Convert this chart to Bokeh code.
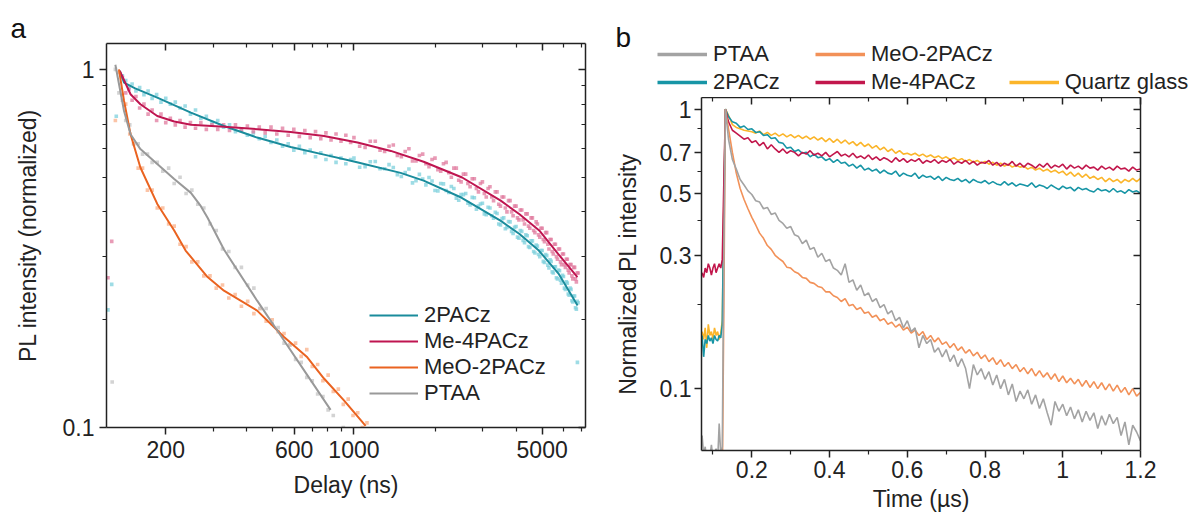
from bokeh.plotting import figure
from bokeh.models import Range1d, FixedTicker, LogAxis, LinearAxis, Legend, LegendItem, Title, Label
from bokeh.layouts import row, column
from bokeh.embed import file_html
from bokeh.resources import INLINE

# ================= Panel a data (delay in ns, normalized PL) =================
a_series = ["2PACz", "Me-4PACz", "MeO-2PACz", "PTAA"]

teal_fit_x = [135, 140, 154, 186, 248, 329, 437, 582, 774, 1000, 1490, 1815, 2513, 3500, 4120, 4860, 5750, 6770]
teal_fit_y = [0.99, 0.918, 0.885, 0.834, 0.757, 0.695, 0.645, 0.607, 0.578, 0.553, 0.514, 0.489, 0.438, 0.378, 0.347, 0.312, 0.269, 0.219]

crim_fit_x = [135, 148, 161, 186, 215, 248, 329, 437, 582, 774, 1031, 1371, 1815, 2523, 3508, 4120, 4877, 5740, 6760]
crim_fit_y = [0.99, 0.852, 0.799, 0.741, 0.715, 0.700, 0.691, 0.681, 0.669, 0.652, 0.625, 0.592, 0.552, 0.499, 0.430, 0.394, 0.355, 0.305, 0.263]

orng_fit_x = [134, 140, 148, 161, 186, 215, 237, 286, 329, 437, 550, 671, 774, 918, 1105]
orng_fit_y = [1.0, 0.816, 0.659, 0.532, 0.421, 0.355, 0.312, 0.263, 0.241, 0.212, 0.179, 0.157, 0.137, 0.119, 0.101]

gray_fit_x = [130, 140, 148, 161, 186, 215, 248, 270, 286, 329, 437, 550, 671, 819]
gray_fit_y = [1.03, 0.765, 0.659, 0.599, 0.544, 0.494, 0.452, 0.415, 0.385, 0.314, 0.226, 0.175, 0.140, 0.112]

# measured points (2PACz and Me-4PACz share delays)
tc_scatter_x = [138, 142, 146, 150, 155, 160, 166, 172, 178, 185,
                192, 200, 208, 217, 226, 236, 247, 258, 270, 283,
                297, 312, 328, 345, 363, 382, 402, 423, 445, 468,
                492, 517, 543, 570, 598, 627, 657, 688, 720, 753,
                787, 822, 858, 895, 933, 972,
                1000, 1100, 1200, 1300, 1400, 1500, 1600, 1700, 1800, 1900,
                2000, 2100, 2200, 2300, 2400, 2500, 2600, 2700, 2800, 2900,
                3000, 3100, 3200, 3300, 3400, 3500, 3600, 3700, 3800, 3900,
                4000, 4100, 4200, 4300, 4400, 4500, 4600, 4700, 4800, 4900,
                5000, 5100, 5200, 5300, 5400, 5500, 5600, 5700, 5800, 5900,
                6000, 6100, 6200, 6300, 6400, 6500, 6600, 6700, 6800]
teal_scatter_y = [0.96, 0.93, 0.89, 0.91, 0.87, 0.89, 0.85, 0.87, 0.83, 0.85,
                  0.81, 0.83, 0.80, 0.81, 0.78, 0.79, 0.75, 0.77, 0.73, 0.74,
                  0.71, 0.72, 0.69, 0.70, 0.67, 0.68, 0.655, 0.665, 0.64, 0.65,
                  0.625, 0.635, 0.61, 0.62, 0.595, 0.61, 0.585, 0.595, 0.57, 0.585,
                  0.56, 0.575, 0.55, 0.565, 0.545, 0.56,
                  0.565, 0.535, 0.553, 0.528, 0.532, 0.502, 0.527, 0.489, 0.494, 0.499,
                  0.459, 0.480, 0.459, 0.471, 0.437, 0.447, 0.450, 0.418, 0.438, 0.415,
                  0.423, 0.393, 0.410, 0.384, 0.396, 0.368, 0.385, 0.362, 0.375, 0.348,
                  0.364, 0.338, 0.353, 0.328, 0.343, 0.318, 0.332, 0.307, 0.321, 0.300,
                  0.312, 0.289, 0.302, 0.279, 0.291, 0.270, 0.281, 0.260, 0.274, 0.253,
                  0.264, 0.243, 0.253, 0.234, 0.243, 0.224, 0.233, 0.214, 0.223]
crim_scatter_y = [0.95, 0.86, 0.88, 0.82, 0.84, 0.78, 0.80, 0.75, 0.77, 0.72,
                  0.75, 0.71, 0.73, 0.70, 0.72, 0.69, 0.71, 0.685, 0.71, 0.68,
                  0.70, 0.68, 0.70, 0.675, 0.70, 0.675, 0.695, 0.67, 0.69, 0.665,
                  0.69, 0.66, 0.685, 0.655, 0.68, 0.65, 0.675, 0.645, 0.67, 0.64,
                  0.665, 0.635, 0.66, 0.63, 0.655, 0.625,
                  0.645, 0.605, 0.63, 0.59, 0.615, 0.57, 0.60, 0.555, 0.58, 0.535,
                  0.565, 0.52, 0.55, 0.50, 0.53, 0.485, 0.51, 0.47, 0.495, 0.455,
                  0.485, 0.44, 0.47, 0.43, 0.455, 0.415, 0.44, 0.40, 0.43, 0.39,
                  0.415, 0.38, 0.405, 0.37, 0.395, 0.36, 0.385, 0.35, 0.37, 0.34,
                  0.36, 0.33, 0.35, 0.315, 0.335, 0.305, 0.325, 0.295, 0.315, 0.285,
                  0.305, 0.28, 0.295, 0.27, 0.285, 0.26, 0.28, 0.255, 0.27]

# further measured points in the dense tail (2PACz and Me-4PACz)
tc_tail_x = [1050, 1150, 1250, 1350, 1450, 1550, 1650, 1750, 1850, 1950,
             2050, 2150, 2250, 2350, 2450, 2550, 2650, 2750, 2850, 2950,
             3050, 3150, 3250, 3350, 3450, 3550, 3650, 3750, 3850, 3950,
             4050, 4150, 4250, 4350, 4450, 4550, 4650, 4750, 4850, 4950,
             5050, 5150, 5250, 5350, 5450, 5550, 5650, 5750, 5850, 5950,
             6050, 6150, 6250, 6350, 6450, 6550, 6650, 6750]
teal_tail_y = [0.533, 0.552, 0.528, 0.542, 0.508, 0.515, 0.482, 0.509, 0.476, 0.488,
               0.458, 0.479, 0.453, 0.465, 0.431, 0.447, 0.423, 0.439, 0.407, 0.421,
               0.395, 0.412, 0.390, 0.399, 0.370, 0.383, 0.359, 0.376, 0.353, 0.362,
               0.340, 0.355, 0.333, 0.345, 0.320, 0.332, 0.310, 0.323, 0.304, 0.312,
               0.291, 0.304, 0.284, 0.294, 0.272, 0.281, 0.262, 0.275, 0.258, 0.266,
               0.245, 0.255, 0.236, 0.245, 0.226, 0.233, 0.216, 0.225]
crim_tail_y = [0.61, 0.63, 0.595, 0.61, 0.575, 0.59, 0.555, 0.575, 0.545, 0.56,
               0.525, 0.545, 0.515, 0.53, 0.49, 0.51, 0.48, 0.495, 0.465, 0.48,
               0.45, 0.465, 0.44, 0.455, 0.42, 0.44, 0.41, 0.43, 0.40, 0.415,
               0.385, 0.405, 0.38, 0.395, 0.365, 0.385, 0.355, 0.375, 0.345, 0.36,
               0.335, 0.35, 0.325, 0.335, 0.31, 0.325, 0.30, 0.315, 0.29, 0.305,
               0.285, 0.295, 0.275, 0.285, 0.265, 0.28, 0.26, 0.27]

# measured points (MeO-2PACz and PTAA share delays)
og_scatter_x = [130, 134, 138, 142, 147, 152, 158, 164, 171, 178,
                186, 195, 205, 215, 226, 238, 250, 263, 277, 292,
                308, 325, 343, 362, 382, 403, 425, 448, 472, 497,
                523, 550, 578, 607, 637, 668, 700, 733, 767, 802,
                838, 875, 913, 952, 992, 1033, 1075, 1118]
orng_scatter_y = [0.72, 0.98, 0.85, 0.80, 0.66, 0.62, 0.53, 0.53, 0.46, 0.46,
                  0.41, 0.41, 0.37, 0.365, 0.325, 0.32, 0.29, 0.29, 0.265, 0.265,
                  0.245, 0.25, 0.23, 0.235, 0.218, 0.225, 0.208, 0.215, 0.198, 0.20,
                  0.185, 0.183, 0.17, 0.172, 0.158, 0.165, 0.148, 0.15, 0.135, 0.14,
                  0.126, 0.128, 0.116, 0.12, 0.108, 0.11, 0.10, 0.103]
gray_scatter_y = [1.0, 0.86, 0.82, 0.72, 0.70, 0.62, 0.62, 0.58, 0.58, 0.55,
                  0.55, 0.52, 0.53, 0.48, 0.50, 0.45, 0.46, 0.42, 0.41, 0.37,
                  0.355, 0.315, 0.31, 0.28, 0.28, 0.25, 0.245, 0.215, 0.215, 0.195,
                  0.19, 0.172, 0.17, 0.155, 0.152, 0.138, 0.135, 0.124, 0.122, 0.112,
                  0.108, 0.099, 0.1, 0.095, 0.097, 0.095, 0.093, 0.09]

# stray points
teal_out_x = [122, 126, 131, 6760]
teal_out_y = [0.213, 0.251, 0.74, 0.152]
crim_out_x = [122, 126]
crim_out_y = [0.262, 0.331]
gray_out_x = [126.5]
gray_out_y = [0.134]

a_xticks = [200, 600, 1000, 5000]
a_xlabels = ["200", "600", "1000", "5000"]
a_xminor = [300, 400, 500, 700, 800, 900, 2000, 3000, 4000, 6000, 7000]
a_yticks = [0.1, 1]
a_ylabels = ["0.1", "1"]
a_yminor = [0.2, 0.3, 0.4, 0.5, 0.6, 0.7, 0.8, 0.9]

# ================= Panel b data (time in us, normalized PL) =================
b_series = ["PTAA", "MeO-2PACz", "2PACz", "Me-4PACz", "Quartz glass"]

time_us = [0.072, 0.076, 0.080, 0.084, 0.088, 0.092, 0.096, 0.100, 0.104, 0.108,
           0.112, 0.116, 0.120, 0.124, 0.128, 0.132,
           0.14, 0.15, 0.16, 0.17, 0.18, 0.19, 0.20, 0.21, 0.22, 0.23,
           0.24, 0.25, 0.26, 0.27, 0.28, 0.29, 0.30, 0.31, 0.32, 0.33,
           0.34, 0.35, 0.36, 0.37, 0.38, 0.39, 0.40, 0.41, 0.42, 0.43,
           0.44, 0.45, 0.46, 0.47, 0.48, 0.49, 0.50, 0.51, 0.52, 0.53,
           0.54, 0.55, 0.56, 0.57, 0.58, 0.59, 0.60, 0.61, 0.62, 0.63,
           0.64, 0.65, 0.66, 0.67, 0.68, 0.69, 0.70, 0.71, 0.72, 0.73,
           0.74, 0.75, 0.76, 0.77, 0.78, 0.79, 0.80, 0.81, 0.82, 0.83,
           0.84, 0.85, 0.86, 0.87, 0.88, 0.89, 0.90, 0.91, 0.92, 0.93,
           0.94, 0.95, 0.96, 0.97, 0.98, 0.99, 1.00, 1.01, 1.02, 1.03,
           1.04, 1.05, 1.06, 1.07, 1.08, 1.09, 1.10, 1.11, 1.12, 1.13,
           1.14, 1.15, 1.16, 1.17, 1.18, 1.19, 1.20]

b_2pacz = [0.155, 0.13, 0.15, 0.145, 0.155, 0.148, 0.152, 0.145, 0.155, 0.15,
           0.148, 0.155, 0.152, 0.17, 0.45, 1.0,
           0.94, 0.90, 0.89, 0.86, 0.87, 0.845, 0.85, 0.825, 0.83, 0.805,
           0.81, 0.785, 0.79, 0.76, 0.755, 0.725, 0.73, 0.705, 0.715, 0.695,
           0.70, 0.675, 0.69, 0.67, 0.675, 0.655, 0.665, 0.645, 0.66, 0.64,
           0.645, 0.625, 0.635, 0.615, 0.63, 0.605, 0.615, 0.60, 0.61, 0.59,
           0.605, 0.59, 0.585, 0.60, 0.575, 0.59, 0.58, 0.575, 0.59, 0.565,
           0.58, 0.57, 0.575, 0.56, 0.575, 0.555, 0.57, 0.56, 0.555, 0.565,
           0.55, 0.56, 0.545, 0.56, 0.55, 0.545, 0.555, 0.54, 0.55, 0.54,
           0.535, 0.55, 0.535, 0.545, 0.53, 0.54, 0.535, 0.53, 0.545, 0.525,
           0.535, 0.53, 0.52, 0.535, 0.525, 0.515, 0.53, 0.52, 0.525, 0.51,
           0.525, 0.515, 0.52, 0.51, 0.505, 0.52, 0.51, 0.515, 0.505, 0.52,
           0.505, 0.51, 0.50, 0.515, 0.505, 0.51, 0.50]
b_me4pacz = [0.26, 0.25, 0.27, 0.26, 0.28, 0.27, 0.255, 0.27, 0.28, 0.26,
             0.27, 0.28, 0.27, 0.29, 0.55, 1.0,
             0.90, 0.84, 0.82, 0.80, 0.78, 0.79, 0.76, 0.77, 0.74, 0.76,
             0.72, 0.745, 0.72, 0.70, 0.72, 0.695, 0.71, 0.70, 0.68, 0.70,
             0.69, 0.71, 0.685, 0.695, 0.68, 0.70, 0.675, 0.69, 0.705, 0.68,
             0.69, 0.675, 0.695, 0.67, 0.68, 0.665, 0.685, 0.66, 0.675, 0.655,
             0.67, 0.66, 0.645, 0.67, 0.65, 0.665, 0.645, 0.66, 0.65, 0.665,
             0.64, 0.655, 0.645, 0.66, 0.64, 0.655, 0.645, 0.66, 0.635, 0.65,
             0.64, 0.655, 0.635, 0.65, 0.63, 0.645, 0.64, 0.655, 0.63, 0.645,
             0.625, 0.64, 0.63, 0.65, 0.625, 0.64, 0.62, 0.64, 0.63, 0.615,
             0.635, 0.62, 0.64, 0.615, 0.63, 0.62, 0.635, 0.61, 0.63, 0.615,
             0.625, 0.61, 0.63, 0.615, 0.62, 0.605, 0.625, 0.61, 0.62, 0.605,
             0.625, 0.61, 0.615, 0.60, 0.62, 0.605, 0.61]
b_quartz = [0.16, 0.15, 0.165, 0.14, 0.17, 0.155, 0.16, 0.15, 0.165, 0.155,
            0.16, 0.15, 0.158, 0.175, 0.47, 1.0,
            0.95, 0.88, 0.86, 0.85, 0.84, 0.835, 0.83, 0.82, 0.835, 0.81,
            0.825, 0.805, 0.82, 0.80, 0.815, 0.795, 0.81, 0.79, 0.805, 0.785,
            0.80, 0.78, 0.795, 0.775, 0.79, 0.765, 0.785, 0.76, 0.78, 0.755,
            0.775, 0.75, 0.765, 0.74, 0.76, 0.735, 0.75, 0.725, 0.74, 0.715,
            0.73, 0.705, 0.72, 0.695, 0.71, 0.69, 0.695, 0.685, 0.695, 0.68,
            0.69, 0.675, 0.685, 0.67, 0.68, 0.665, 0.675, 0.66, 0.67, 0.655,
            0.665, 0.65, 0.66, 0.645, 0.655, 0.64, 0.65, 0.635, 0.645, 0.63,
            0.64, 0.625, 0.635, 0.62, 0.63, 0.62, 0.625, 0.61, 0.62, 0.605,
            0.615, 0.60, 0.61, 0.595, 0.605, 0.59, 0.60, 0.58, 0.595, 0.575,
            0.59, 0.57, 0.585, 0.565, 0.575, 0.56, 0.57, 0.55, 0.565, 0.55,
            0.56, 0.545, 0.56, 0.55, 0.565, 0.55, 0.565]
b_ptaa = [0.068, 0.058, 0.062, 0.055, 0.06, 0.057, 0.063, 0.056, 0.059, 0.061,
          0.055, 0.075, 0.058, 0.062, 0.3, 1.0,
          0.78, 0.66, 0.61, 0.56, 0.535, 0.51, 0.495, 0.47, 0.465, 0.44,
          0.445, 0.42, 0.425, 0.40, 0.39, 0.375, 0.38, 0.355, 0.35, 0.33,
          0.34, 0.315, 0.32, 0.295, 0.305, 0.285, 0.29, 0.27, 0.265, 0.255,
          0.28, 0.24, 0.245, 0.225, 0.235, 0.215, 0.22, 0.205, 0.21, 0.195,
          0.20, 0.185, 0.19, 0.175, 0.18, 0.165, 0.175, 0.16, 0.165, 0.14,
          0.155, 0.145, 0.15, 0.135, 0.14, 0.13, 0.138, 0.125, 0.132, 0.12,
          0.128, 0.118, 0.10, 0.122, 0.112, 0.118, 0.108, 0.115, 0.103, 0.112,
          0.10, 0.108, 0.095, 0.104, 0.09, 0.098, 0.092, 0.099, 0.088, 0.095,
          0.085, 0.092, 0.082, 0.074, 0.09, 0.083, 0.088, 0.08, 0.086, 0.078,
          0.084, 0.076, 0.083, 0.077, 0.082, 0.072, 0.08, 0.074, 0.081, 0.075,
          0.079, 0.068, 0.076, 0.063, 0.074, 0.07, 0.065]
b_meo2pacz = [0.04, 0.04, 0.04, 0.04, 0.04, 0.04, 0.04, 0.04, 0.04, 0.04,
              0.04, 0.04, 0.04, 0.045, 0.2, 1.0,
              0.85, 0.70, 0.59, 0.52, 0.475, 0.44, 0.41, 0.385, 0.36, 0.345,
              0.325, 0.315, 0.30, 0.292, 0.285, 0.272, 0.27, 0.262, 0.258, 0.25,
              0.248, 0.24, 0.238, 0.232, 0.23, 0.222, 0.222, 0.215, 0.212, 0.205,
              0.21, 0.198, 0.20, 0.192, 0.195, 0.186, 0.188, 0.18, 0.183, 0.175,
              0.178, 0.17, 0.173, 0.166, 0.17, 0.162, 0.166, 0.158, 0.162, 0.155,
              0.16, 0.15, 0.155, 0.147, 0.152, 0.144, 0.147, 0.14, 0.145, 0.137,
              0.141, 0.134, 0.138, 0.131, 0.135, 0.128, 0.132, 0.125, 0.129, 0.122,
              0.127, 0.12, 0.124, 0.118, 0.122, 0.115, 0.119, 0.113, 0.118, 0.111,
              0.116, 0.11, 0.114, 0.108, 0.113, 0.106, 0.111, 0.105, 0.109, 0.104,
              0.108, 0.102, 0.107, 0.101, 0.106, 0.10, 0.105, 0.099, 0.104, 0.098,
              0.103, 0.097, 0.101, 0.095, 0.10, 0.094, 0.097]

b_xticks = [0.2, 0.4, 0.6, 0.8, 1.0, 1.2]
b_xlabels = ["0.2", "0.4", "0.6", "0.8", "1", "1.2"]
b_xminor = [0.1, 0.3, 0.5, 0.7, 0.9, 1.1]
b_yticks = [0.1, 0.3, 0.5, 0.7, 1.0]
b_ylabels = ["0.1", "0.3", "0.5", "0.7", "1"]
b_yminor = [0.2, 0.4, 0.6, 0.85]

# ================= styling helpers =================
FONT = "Liberation Sans"
INK = "#222222"
TXT = "23px"


def style_axis(ax, major, minor, labels=None, mirror=False, title=None,
               lab_standoff=5, title_standoff=10):
    ax.ticker = FixedTicker(ticks=major, minor_ticks=minor)
    ax.axis_line_color = INK
    ax.axis_line_width = 1.5
    ax.major_tick_line_color = INK
    ax.major_tick_line_width = 1.5
    ax.minor_tick_line_color = INK
    ax.minor_tick_line_width = 1.2
    if mirror:
        ax.major_tick_in = 7
        ax.major_tick_out = 0
        ax.minor_tick_in = 4
        ax.minor_tick_out = 0
        ax.major_label_overrides = {m: "" for m in major}
        ax.major_label_text_font_size = "0px"
        ax.major_label_standoff = 0
    else:
        ax.major_tick_in = 0
        ax.major_tick_out = 7
        ax.minor_tick_in = 0
        ax.minor_tick_out = 4
        ax.major_label_overrides = dict(zip(major, labels))
        ax.major_label_text_font = FONT
        ax.major_label_text_font_size = TXT
        ax.major_label_text_color = INK
        ax.major_label_standoff = lab_standoff
        ax.axis_label = title
        ax.axis_label_text_font = FONT
        ax.axis_label_text_font_size = TXT
        ax.axis_label_text_font_style = "normal"
        ax.axis_label_text_color = INK
        ax.axis_label_standoff = title_standoff


def style_legend(leg):
    leg.label_text_font = FONT
    leg.label_text_font_size = "22px"
    leg.label_text_color = INK
    leg.border_line_color = None
    leg.background_fill_alpha = 0
    leg.padding = 0
    leg.margin = 0
    leg.label_height = 22
    leg.glyph_height = 22


# ================= Panel a =================
pa = figure(width=600, height=517, x_axis_type="log", y_axis_type="log",
            x_range=Range1d(120.5, 7244), y_range=Range1d(0.1, 1.181),
            output_backend="svg", toolbar_location=None, title_location=None,
            frame_align=False,
            min_border_left=106, min_border_right=15, min_border_top=43, min_border_bottom=90)
pa.grid.visible = False
pa.outline_line_color = None
style_axis(pa.below[0], a_xticks, a_xminor, a_xlabels, title="Delay (ns)", lab_standoff=6, title_standoff=11)
style_axis(pa.left[0], a_yticks, a_yminor, a_ylabels, title="PL intensity (normalized)", lab_standoff=5, title_standoff=19)
ta = LogAxis()
pa.add_layout(ta, "above")
style_axis(ta, a_xticks, a_xminor, mirror=True)
ra = LogAxis()
pa.add_layout(ra, "right")
style_axis(ra, a_yticks, a_yminor, mirror=True)

TEAL_L, TEAL_D = "#7dd0dc", "#1a8c9c"
CRIM_L, CRIM_D = "#e07a9e", "#bf1550"
ORNG_L, ORNG_D = "#f9b08a", "#ea6320"
GRAY_L, GRAY_D = "#c4c4c4", "#999999"

sq = dict(marker="square", size=3.6, line_color=None, fill_alpha=0.75)
pa.scatter(tc_scatter_x, teal_scatter_y, fill_color=TEAL_L, **sq)
pa.scatter(tc_tail_x, teal_tail_y, fill_color=TEAL_L, **sq)
pa.scatter(tc_scatter_x, crim_scatter_y, fill_color=CRIM_L, **sq)
pa.scatter(tc_tail_x, crim_tail_y, fill_color=CRIM_L, **sq)
pa.scatter(og_scatter_x, orng_scatter_y, fill_color=ORNG_L, **sq)
pa.scatter(og_scatter_x, gray_scatter_y, fill_color=GRAY_L, **sq)
pa.scatter(teal_out_x, teal_out_y, fill_color=TEAL_L, **sq)
pa.scatter(crim_out_x, crim_out_y, fill_color=CRIM_L, **sq)
pa.scatter(gray_out_x, gray_out_y, fill_color=GRAY_L, **sq)

r_teal = pa.line(teal_fit_x, teal_fit_y, line_color=TEAL_D, line_width=2)
r_crim = pa.line(crim_fit_x, crim_fit_y, line_color=CRIM_D, line_width=2)
r_orng = pa.line(orng_fit_x, orng_fit_y, line_color=ORNG_D, line_width=2)
r_gray = pa.line(gray_fit_x, gray_fit_y, line_color=GRAY_D, line_width=2)

leg_a = Legend(items=[LegendItem(label=a_series[0], renderers=[r_teal]),
                      LegendItem(label=a_series[1], renderers=[r_crim]),
                      LegendItem(label=a_series[2], renderers=[r_orng]),
                      LegendItem(label=a_series[3], renderers=[r_gray])],
               location=(263, 21), orientation="vertical",
               glyph_width=49, label_standoff=6, spacing=0)
style_legend(leg_a)
pa.add_layout(leg_a)
pa.add_layout(Title(text="a", align="left", offset=-96, standoff=0,
                    text_font=FONT, text_font_size="28px", text_font_style="normal",
                    text_color="#111111"), "above")

# ================= Panel b: header with legend =================
C_PTAA, C_MEO, C_2P, C_ME4, C_QZ = "#a3a3a3", "#f29158", "#1795a6", "#c2174c", "#fbb52a"

# the header's ranges lie away from the data, so only the legend swatches show
hb = figure(width=591, height=97, x_range=Range1d(10, 11), y_range=Range1d(10, 11),
            output_backend="svg", toolbar_location=None, title_location=None,
            x_axis_location=None, y_axis_location=None, frame_align=False,
            min_border=0)
hb.grid.visible = False
hb.outline_line_color = None

lw = 3.5
k_ptaa = hb.line(time_us, b_ptaa, line_color=C_PTAA, line_width=lw)
k_meo = hb.line(time_us, b_meo2pacz, line_color=C_MEO, line_width=lw)
k_2p = hb.line(time_us, b_2pacz, line_color=C_2P, line_width=lw)
k_me4 = hb.line(time_us, b_me4pacz, line_color=C_ME4, line_width=lw)
k_qz = hb.line(time_us, b_quartz, line_color=C_QZ, line_width=lw)

leg_b2 = Legend(items=[LegendItem(label=b_series[2], renderers=[k_2p]),
                       LegendItem(label=b_series[3], renderers=[k_me4]),
                       LegendItem(label=b_series[4], renderers=[k_qz])],
                location=(57, 2), orientation="horizontal",
                glyph_width=50, label_standoff=6, spacing=33, label_width=69)
style_legend(leg_b2)
hb.add_layout(leg_b2)
leg_b1 = Legend(items=[LegendItem(label=b_series[0], renderers=[k_ptaa]),
                       LegendItem(label=b_series[1], renderers=[k_meo])],
                location=(57, 30), orientation="horizontal",
                glyph_width=50, label_standoff=6, spacing=33, label_width=69)
style_legend(leg_b1)
hb.add_layout(leg_b1)
hb.add_layout(Label(x=15, y=60, x_units="screen", y_units="screen", text="b",
                    text_baseline="alphabetic", text_font=FONT, text_font_size="28px",
                    text_color="#111111"))

# ================= Panel b: plot =================
pb = figure(width=591, height=420, y_axis_type="log",
            x_range=Range1d(0.0705, 1.2), y_range=Range1d(0.0601, 1.10),
            output_backend="svg", toolbar_location=None, title_location=None,
            frame_align=False,
            min_border_left=101, min_border_right=51, min_border_top=0, min_border_bottom=67)
pb.grid.visible = False
pb.outline_line_color = None
style_axis(pb.below[0], b_xticks, b_xminor, b_xlabels, title="Time (\u00b5s)", lab_standoff=3, title_standoff=5)
style_axis(pb.left[0], b_yticks, b_yminor, b_ylabels, title="Normalized PL intensity", lab_standoff=3, title_standoff=16)
tb = LinearAxis()
pb.add_layout(tb, "above")
style_axis(tb, b_xticks, b_xminor, mirror=True)
rb = LogAxis()
pb.add_layout(rb, "right")
style_axis(rb, b_yticks, b_yminor, mirror=True)

pb.line(time_us, b_quartz, line_color=C_QZ, line_width=1.6)
pb.line(time_us, b_2pacz, line_color=C_2P, line_width=1.6)
pb.line(time_us, b_me4pacz, line_color=C_ME4, line_width=1.6)
pb.line(time_us, b_meo2pacz, line_color=C_MEO, line_width=1.6)
pb.line(time_us, b_ptaa, line_color=C_PTAA, line_width=1.6)

layout = row(pa, column(hb, pb))
open("out.html", "w").write(file_html(layout, INLINE))
